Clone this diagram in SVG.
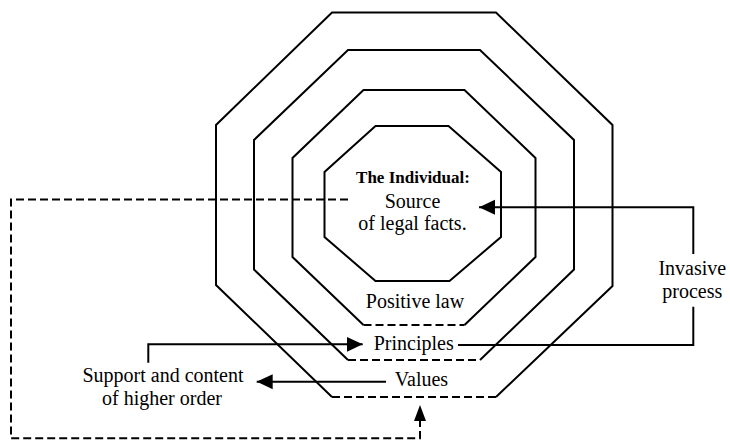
<svg xmlns="http://www.w3.org/2000/svg" width="730" height="440" viewBox="0 0 730 440">
<style>
.ln{fill:none;stroke:#000;stroke-width:2;stroke-linejoin:miter}
.ds{fill:none;stroke:#000;stroke-width:2;stroke-dasharray:8,4}
text{font-family:"Liberation Serif","Times New Roman",serif;font-size:20px;fill:#000;text-anchor:middle}
.b{font-weight:bold;font-size:17px}
</style>
<defs>
<marker id="ah" markerUnits="userSpaceOnUse" markerWidth="16" markerHeight="16" viewBox="0 0 15 14" refX="15" refY="7" orient="auto">
<path d="M0,0 L15,7 L0,14 Z" fill="#000" stroke="none"/>
</marker>
</defs>
<rect width="730" height="440" fill="#fff"/>
<g id="values">
<polyline class="ln" points="332,397 216,285 216,125 332,12.5 496,12.5 612.5,125 612.5,286 496,397"/>
<line class="ds" x1="332" y1="397" x2="496" y2="397"/>
<text x="421.5" y="386">Values</text>
</g>
<g id="principles">
<polyline class="ln" points="348,360 254,269.5 254,140 348,50 480,50 574,140 574,269.5 480,360"/>
<line class="ds" x1="348" y1="360" x2="480" y2="360"/>
<text x="413.7" y="349.5">Principles</text>
</g>
<g id="positive-law">
<polyline class="ln" points="363.5,325 292.5,257 292.5,158 363.5,90 464.5,90 535.5,158 535.5,257 464.5,325"/>
<line class="ds" x1="363.5" y1="325" x2="464.5" y2="325"/>
<text x="415" y="308">Positive law</text>
</g>
<g id="individual">
<polygon class="ln" points="375.5,126 448.5,126 501,172 501,237 449.5,281 375.5,281 324.5,237 324.5,172"/>
<text class="b" x="413" y="183.3">The Individual:</text>
<text x="412.5" y="207.5">Source</text>
<text x="412.5" y="230">of legal facts.</text>
</g>
<g id="support">
<text x="163" y="382">Support and content</text>
<text x="162" y="405">of higher order</text>
</g>
<g id="invasive">
<text x="692.3" y="274.5">Invasive</text>
<text x="692.3" y="297.5">process</text>
</g>
<g id="connectors">
<polyline class="ds" points="348,199.5 11,199.5 11,438.3 420,438.3 420,420"/>
<path d="M420,421 L414,421 L420,405 L426,421 Z" fill="#000"/>
<polyline class="ln" points="148.3,362.7 148.3,344.3 362.7,344.3" marker-end="url(#ah)"/>
<line class="ln" x1="386" y1="381.7" x2="256.7" y2="381.7" marker-end="url(#ah)"/>
<polyline class="ln" points="458,345 693.3,345 693.3,306.7"/>
<polyline class="ln" points="693.3,254 693.3,207.3 479,207.3" marker-end="url(#ah)"/>
</g>
</svg>
